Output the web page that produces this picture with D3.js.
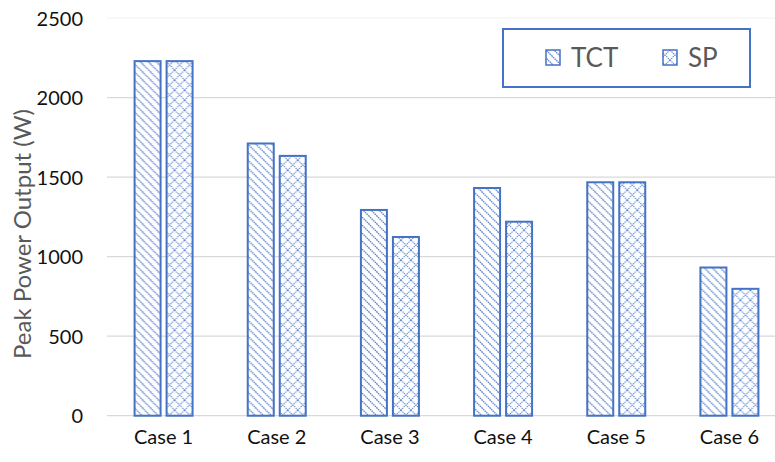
<!DOCTYPE html>
<html>
<head>
<meta charset="utf-8">
<script src="https://cdn.jsdelivr.net/npm/d3@7"></script>
<style>
  body { margin: 0; background: #fff; }
  text { font-family: Lato, "Open Sans", sans-serif; }
</style>
</head>
<body>
<div id="chart"></div>
<script>
var cases = ["Case 1", "Case 2", "Case 3", "Case 4", "Case 5", "Case 6"];
var series = ["TCT", "SP"];
var tctValues = [2230, 1712, 1294, 1432, 1468, 932];
var spValues = [2230, 1634, 1124, 1220, 1468, 798];
var yTicks = [0, 500, 1000, 1500, 2000, 2500];

var rows = cases.map((c, i) => ({ name: c, TCT: tctValues[i], SP: spValues[i] }));

var blue = "#4472C4";

var svg = d3.select("#chart")
    .append("svg")
    .attr("width", 775)
    .attr("height", 462);

var defs = svg.append("defs");

// downward diagonal for TCT
var p1 = defs.append("pattern")
    .attr("id", "pat-tct")
    .attr("patternUnits", "userSpaceOnUse")
    .attr("width", 8).attr("height", 8);
p1.append("rect").attr("width", 8).attr("height", 8).attr("fill", "#fff");
p1.append("path")
    .attr("d", "M-2,-2 L10,10 M-2,6 L2,10 M6,-2 L10,2")
    .attr("stroke", blue).attr("stroke-width", 1.3)
    .attr("stroke-dasharray", "1.6,0.6")
    .attr("opacity", 0.85);

// diamond grid for SP
var p2 = defs.append("pattern")
    .attr("id", "pat-sp")
    .attr("patternUnits", "userSpaceOnUse")
    .attr("width", 10).attr("height", 10);
p2.append("rect").attr("width", 10).attr("height", 10).attr("fill", "#fff");
p2.append("path")
    .attr("d", "M0,0 L10,10 M10,0 L0,10")
    .attr("stroke", blue).attr("stroke-width", 1.1)
    .attr("stroke-dasharray", "1.4,0.8")
    .attr("opacity", 0.85);

var x0 = d3.scaleBand()
    .domain(cases)
    .range([107, 786]);

var x1 = d3.scaleBand()
    .domain(series)
    .range([0, 58])
    .paddingInner(0.1875);

var y = d3.scaleLinear()
    .domain([0, 2500])
    .range([415.7, 18.2]);

// gridlines
svg.append("g")
    .selectAll("line")
    .data(yTicks).enter().append("line")
    .attr("x1", 107).attr("x2", 775)
    .attr("y1", d => y(d)).attr("y2", d => y(d))
    .attr("stroke", d => d == 2500 ? "#f4f4f4" : "#d9d9d9")
    .attr("stroke-width", 1.3);

// y axis labels
var yAxis = d3.axisLeft(y).tickValues(yTicks).tickFormat(d3.format("d")).tickSize(0).tickPadding(0);
var yg = svg.append("g")
    .attr("transform", "translate(" + 83 + "," + 0 + ")")
    .call(yAxis);
yg.select(".domain").remove();
yg.selectAll("text")
    .attr("font-size", 20)
    .attr("font-family", "Lato, sans-serif")
    .attr("fill", "#111")
    .attr("dy", "0.35em");

// x axis labels
var xAxis = d3.axisBottom(x0).tickSize(0).tickPadding(0);
var xg = svg.append("g")
    .attr("transform", "translate(" + 0 + "," + 430 + ")")
    .call(xAxis);
xg.select(".domain").remove();
xg.selectAll("text")
    .attr("font-size", 20)
    .attr("font-family", "Lato, sans-serif")
    .attr("fill", "#111")
    .attr("dy", "0.71em");

// bars
var groups = svg.append("g")
    .selectAll("g")
    .data(rows).enter().append("g")
    .attr("transform", d => "translate(" + (x0(d.name) + (x0.bandwidth() - 58) / 2) + ",0)");

groups.selectAll("rect")
    .data(d => series.map(s => ({ key: s, value: d[s] })))
    .enter().append("rect")
    .attr("x", d => x1(d.key))
    .attr("width", x1.bandwidth())
    .attr("y", d => y(d.value))
    .attr("height", d => y(0) - y(d.value))
    .attr("fill", d => d.key == "TCT" ? "url(#pat-tct)" : "url(#pat-sp)")
    .attr("stroke", blue)
    .attr("stroke-width", 2);

// y title
svg.append("g")
    .attr("transform", "translate(" + 31 + ", " + 234 + ")")
    .append("text")
    .attr("transform", "rotate(-90)")
    .attr("text-anchor", "middle")
    .attr("font-size", 24)
    .attr("fill", "#595959")
    .text("Peak Power Output (W)");

// legend
var legend = svg.append("g");
legend.append("rect")
    .attr("x", 503).attr("y", 29)
    .attr("width", 247).attr("height", 58)
    .attr("fill", "#fff")
    .attr("stroke", blue)
    .attr("stroke-width", 2);

var legendX = [546, 663];
series.forEach((s, i) => {
    legend.append("rect")
        .attr("x", legendX[i]).attr("y", 50)
        .attr("width", 14).attr("height", 15)
        .attr("fill", s == "TCT" ? "url(#pat-tct)" : "url(#pat-sp)")
        .attr("stroke", blue)
        .attr("stroke-width", 1.5);
    legend.append("text")
        .attr("x", legendX[i] + 25)
        .attr("y", 58)
        .attr("dy", "0.35em")
        .attr("font-size", 26)
        .attr("fill", "#595959")
        .text(s);
});
</script>
</body>
</html>
